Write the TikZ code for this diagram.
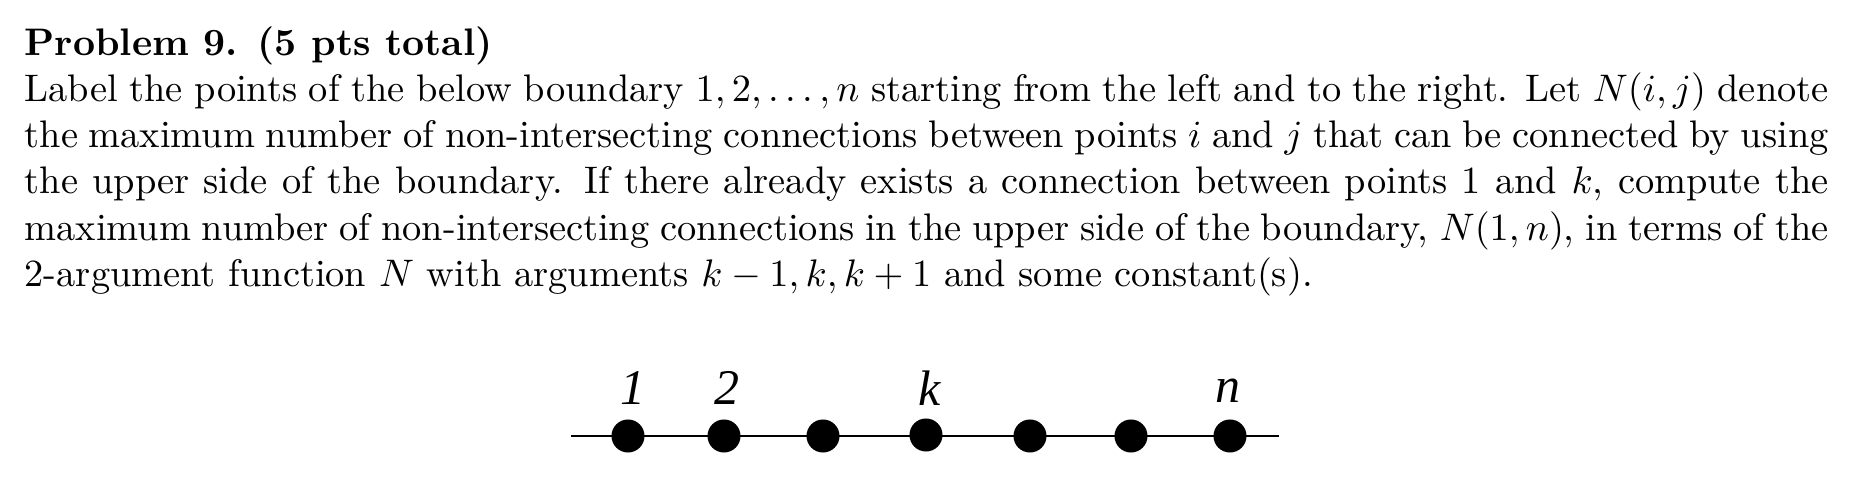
\documentclass[tikz,border=0pt]{standalone}
\usepackage{fontspec}
\newfontfamily\labfont{Liberation Serif}
\tikzset{
  dotnode/.style={circle, fill=black, inner sep=0pt, minimum size=8.6pt},
  labnode/.style={anchor=base, inner sep=0pt, font=\labfont\itshape\fontsize{13}{15}\selectfont},
  bline/.style={line width=0.55pt}
}
\begin{document}
\begin{tikzpicture}[x=0.26042pt,y=-0.26042pt]
\useasboundingbox (0,0) rectangle (1857,487);
\node[anchor=north west, inner sep=0pt, text width=469.75pt, align=justify,
      font=\fontsize{10}{12}\selectfont] (txt) at (24,22.7)
{\strut\textbf{Problem 9. (5 pts total)}\\
Label the points of the below boundary $1,2,\ldots,n$ starting from the left and to the right. Let $N(i,j)$ denote\linebreak
the maximum number of non-intersecting connections between points $i$ and $j$ that can be connected by using\linebreak
the upper side of the boundary. If there already exists a connection between points 1 and $k$, compute the\linebreak
maximum number of non-intersecting connections in the upper side of the boundary, $N(1,n)$, in terms of the\linebreak
2-argument function $N$ with arguments $k-1,k,k+1$ and some constant(s).};
\coordinate (L) at (571,436);
\coordinate (R) at (1279,436);
\draw[bline] (L) -- (R);
\node[dotnode] (p1) at (628,436) {};
\node[dotnode] (p2) at (724,436) {};
\node[dotnode] (p3) at (823,436) {};
\node[dotnode] (pk) at (926,435) {};
\node[dotnode] (p5) at (1030,436) {};
\node[dotnode] (p6) at (1131,436) {};
\node[dotnode] (pn) at (1230,436) {};
\node[labnode] (l1) at (633,405) {1};
\node[labnode] (l2) at (727,405) {2};
\node[labnode] (lk) at (930,406) {k};
\node[labnode] (ln) at (1228,403) {n};
\end{tikzpicture}
\end{document}
